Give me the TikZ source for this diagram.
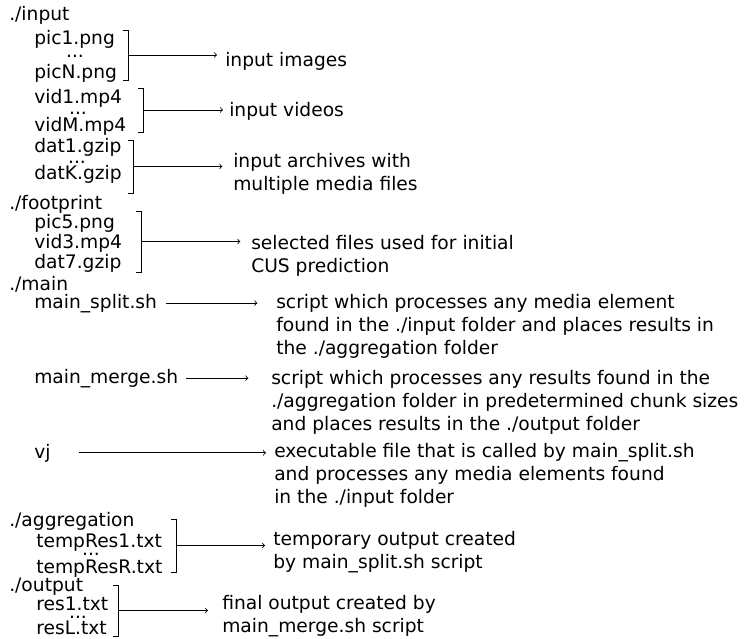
\documentclass[tikz,border=0pt]{standalone}
\usepackage{fontspec}
\setmainfont{DejaVu Sans}

\begin{document}
\begin{tikzpicture}[x=0.75pt,y=0.75pt,yscale=-1,xscale=1,
  every node/.style={inner sep=0pt,font=\fontsize{14}{17}\selectfont},
  entry/.style={anchor=base west},
  dots/.style={anchor=base},
  desc/.style={anchor=base west,align=left},
  brk/.style={line width=0.6pt},
  arr/.style={->,line width=0.6pt}]
\useasboundingbox (0,0) rectangle (748,638);

% folder ./input
\node [entry] (input) at (9,21) {./input};
\node [entry] (pic1) at (34,45) {pic1.png};
\node [dots] (picdots) at (75,58) {...};
\node [entry] (picN) at (34,79) {picN.png};
\node [entry] (vid1) at (34,104) {vid1.mp4};
\node [dots] (viddots) at (78,115) {...};
\node [entry] (vidM) at (34,132) {vidM.mp4};
\node [entry] (dat1) at (34,152) {dat1.gzip};
\node [dots] (datdots) at (77,163) {...};
\node [entry] (datK) at (34,179) {datK.gzip};

% folder ./footprint
\node [entry] (footprint) at (9,209) {./footprint};
\node [entry] (pic5) at (34,228) {pic5.png};
\node [entry] (vid3) at (34,248) {vid3.mp4};
\node [entry] (dat7) at (34,268) {dat7.gzip};

% folder ./main
\node [entry] (main) at (9,290) {./main};
\node [entry] (split) at (34,308) {main\_split.sh};
\node [entry] (merge) at (34,383) {main\_merge.sh};
\node [entry] (vj) at (34,458) {vj};

% folder ./aggregation
\node [entry] (aggregation) at (9,526) {./aggregation};
\node [entry] (temp1) at (36,547) {tempRes1.txt};
\node [dots] (tempdots) at (91,555) {...};
\node [entry] (tempR) at (36,573) {tempResR.txt};

% folder ./output
\node [entry] (output) at (9,591) {./output};
\node [entry] (res1) at (36,610) {res1.txt};
\node [dots] (resdots) at (78,618) {...};
\node [entry] (resL) at (36,634) {resL.txt};

% descriptions (anchored at the last line)
\node [desc] (picdesc) at (225,67) {input images};
\node [desc] (viddesc) at (229,117) {input videos};
\node [desc] (datdesc) at (233,190) {input archives with\\multiple media files};
\node [desc] (footdesc) at (251,272) {selected files used for initial\\CUS prediction};
\node [desc] (splitdesc) at (276,354) {script which processes any media element\\found in the ./input folder and places results in\\the ./aggregation folder};
\node [desc] (mergedesc) at (271,430) {script which processes any results found in the\\./aggregation folder in predetermined chunk sizes\\and places results in the ./output folder};
\node [desc] (vjdesc) at (274,503) {executable file that is called by main\_split.sh\\and processes any media elements found\\in the ./input folder};
\node [desc] (tempdesc) at (273,568) {temporary output created\\by main\_split.sh script};
\node [desc] (resdesc) at (222,632) {final output created by\\main\_merge.sh script};

% brackets
\draw [brk] (123,30) -- (128,30) -- coordinate (picb) (128,80) -- (123,80);
\draw [brk] (138,88) -- (143,88) -- coordinate (vidb) (143,132) -- (138,132);
\draw [brk] (128,140) -- (133,140) -- coordinate (datb) (133,193) -- (128,193);
\draw [brk] (136,211) -- (141,211) -- coordinate (footb) (141,272) -- (136,272);
\draw [brk] (171,519) -- (176,519) -- coordinate (tempb) (176,572) -- (171,572);
\draw [brk] (113,585) -- (118,585) -- coordinate (resb) (118,636) -- (113,636);

% arrows
\draw [arr,shorten >=6pt] (picb) -- (picb -| picdesc.west);
\draw [arr,shorten >=4.5pt] (vidb) -- (vidb -| viddesc.west);
\draw [arr,shorten >=8pt] (datb) -- (datb -| datdesc.west);
\draw [arr,shorten >=8pt] (footb) -- (footb -| footdesc.west);
\draw [arr,shorten <=6.5pt,shorten >=14pt] (split.east) -- (split.east -| splitdesc.west);
\draw [arr,shorten <=6pt,shorten >=17pt] (merge.east) -- (merge.east -| mergedesc.west);
\draw [arr,shorten <=21pt,shorten >=6pt] (vj.east) -- (vj.east -| vjdesc.west);
\draw [arr,shorten >=6pt] (tempb) -- (tempb -| tempdesc.west);
\draw [arr,shorten >=10.5pt] (resb) -- (resb -| resdesc.west);

\end{tikzpicture}
\end{document}
